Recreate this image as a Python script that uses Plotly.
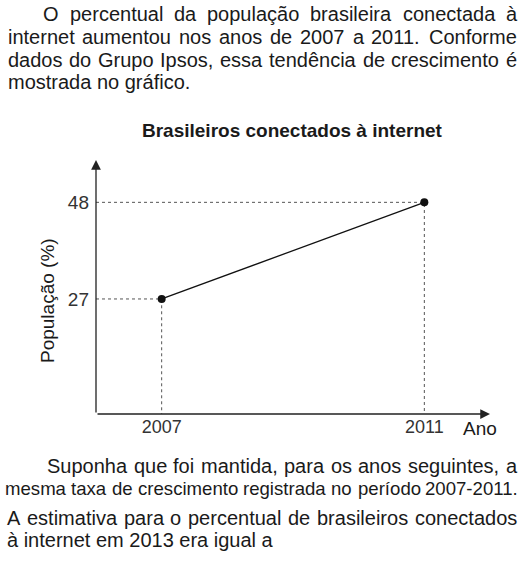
import unicodedata
import plotly.graph_objects as go

# dados
anos = [2007, 2011]
populacao = [27, 48]

titulo = "Brasileiros conectados à internet"
titulo_y = "População (%)"
titulo_x = "Ano"

texto_topo = [
    "O percentual da população brasileira conectada à",
    "internet aumentou nos anos de 2007 a 2011. Conforme",
    "dados do Grupo Ipsos, essa tendência de crescimento é",
    "mostrada no gráfico.",
]
texto_base = [
    "Suponha que foi mantida, para os anos seguintes, a",
    "mesma taxa de crescimento registrada no período 2007-2011.",
    "A estimativa para o percentual de brasileiros conectados",
    "à internet em 2013 era igual a",
]

W, H = 531, 568
ML, MR, MT, MB = 96, 41, 160, 154
X0, X1 = 2006, 2012
Y0, Y1 = 2, 57.2
FONTE = "Liberation Sans, Arial, sans-serif"
COR_TXT = "#1a1a1a"

# larguras Arial/Liberation Sans (1/1000 em)
LARG = {" ": 278, ".": 278, ",": 278, "-": 333, "(": 333, ")": 333, "%": 889,
        "a": 556, "b": 556, "c": 500, "d": 556, "e": 556, "f": 278, "g": 556,
        "h": 556, "i": 222, "j": 222, "k": 500, "l": 222, "m": 833, "n": 556,
        "o": 556, "p": 556, "q": 556, "r": 333, "s": 500, "t": 278, "u": 556,
        "v": 500, "w": 722, "x": 500, "y": 500, "z": 500,
        "A": 667, "C": 722, "G": 778, "I": 278, "O": 778, "S": 667}


def largura(s, size):
    tot = 0
    for c in s:
        base = unicodedata.normalize("NFD", c)[0]
        tot += LARG.get(base, 556)
    return tot * size / 1000


def px(x):
    return (x - ML) / (W - ML - MR)


def py(y):
    return 1 - (y - MT) / (H - MT - MB)


anots = []


def linha(texto, x0, x1, y, size, justificar=True):
    palavras = texto.split(" ")
    if not justificar or len(palavras) < 2:
        anots.append(dict(text=texto, x=px(x0), y=py(y), xref="paper", yref="paper",
                          xanchor="left", yanchor="middle", showarrow=False,
                          font=dict(size=size, family=FONTE, color=COR_TXT)))
        return
    tot = sum(largura(p, size) for p in palavras)
    gap = (x1 - x0 - tot) / (len(palavras) - 1)
    x = x0
    for p in palavras:
        anots.append(dict(text=p, x=px(x), y=py(y), xref="paper", yref="paper",
                          xanchor="left", yanchor="middle", showarrow=False,
                          font=dict(size=size, family=FONTE, color=COR_TXT)))
        x += largura(p, size) + gap


linha(texto_topo[0], 41, 515, 14, 20)
linha(texto_topo[1], 6, 515, 36.5, 20)
linha(texto_topo[2], 6, 515, 59.5, 20)
linha(texto_topo[3], 6, 515, 81.5, 20, justificar=False)

linha(texto_base[0], 45, 515, 466, 20)
linha(texto_base[1], 3, 517, 488.5, 18.6)
linha(texto_base[2], 5, 515, 517.5, 20)
linha(texto_base[3], 5, 515, 540, 20, justificar=False)

fig = go.Figure()

# linhas de chamada pontilhadas
for a, p in zip(anos, populacao):
    fig.add_trace(go.Scatter(x=[X0, a, a], y=[p, p, Y0], mode="lines",
                             line=dict(color="#555555", width=1, dash="dot"),
                             hoverinfo="skip", showlegend=False, cliponaxis=False))

fig.add_trace(go.Scatter(x=anos, y=populacao, mode="lines+markers",
                         line=dict(color="#111111", width=1.3),
                         marker=dict(color="#111111", size=8),
                         showlegend=False, cliponaxis=False))

# eixos com setas
anots.append(dict(x=X1, y=Y0, ax=X0, ay=Y0, xref="x", yref="y", axref="x", ayref="y",
                  text="", showarrow=True, arrowhead=2, arrowsize=1.5, arrowwidth=1.3,
                  arrowcolor="#222222"))
anots.append(dict(x=X0, y=Y1, ax=X0, ay=Y0, xref="x", yref="y", axref="x", ayref="y",
                  text="", showarrow=True, arrowhead=2, arrowsize=1.5, arrowwidth=1.3,
                  arrowcolor="#222222"))

anots.append(dict(text=titulo_x, x=px(480), y=py(428), xref="paper", yref="paper",
                  xanchor="center", yanchor="middle", showarrow=False,
                  font=dict(size=19, family=FONTE, color=COR_TXT)))
anots.append(dict(text=titulo_y, x=px(47), y=py(301), xref="paper", yref="paper",
                  xanchor="center", yanchor="middle", showarrow=False, textangle=-90,
                  font=dict(size=19, family=FONTE, color=COR_TXT)))
anots.append(dict(text="<b>" + titulo + "</b>", x=px(292), y=py(130), xref="paper",
                  yref="paper", xanchor="center", yanchor="middle", showarrow=False,
                  font=dict(size=19, family=FONTE, color=COR_TXT)))

fig.update_layout(width=W, height=H, margin=dict(l=ML, r=MR, t=MT, b=MB),
                  paper_bgcolor="white", plot_bgcolor="white",
                  annotations=anots, showlegend=False)
fig.update_xaxes(range=[X0, X1], tickvals=anos, ticks="", showgrid=False,
                 zeroline=False, showline=False,
                 tickfont=dict(size=18, family=FONTE, color="#333333"))
fig.update_yaxes(range=[Y0, Y1], tickvals=populacao, ticks="", showgrid=False,
                 zeroline=False, showline=False, ticklabelstandoff=6,
                 tickfont=dict(size=19, family=FONTE, color="#333333"))

fig.write_html("out.html", config={"displayModeBar": False},
               post_script="document.body.style.margin='0';document.body.style.overflow='hidden';")
